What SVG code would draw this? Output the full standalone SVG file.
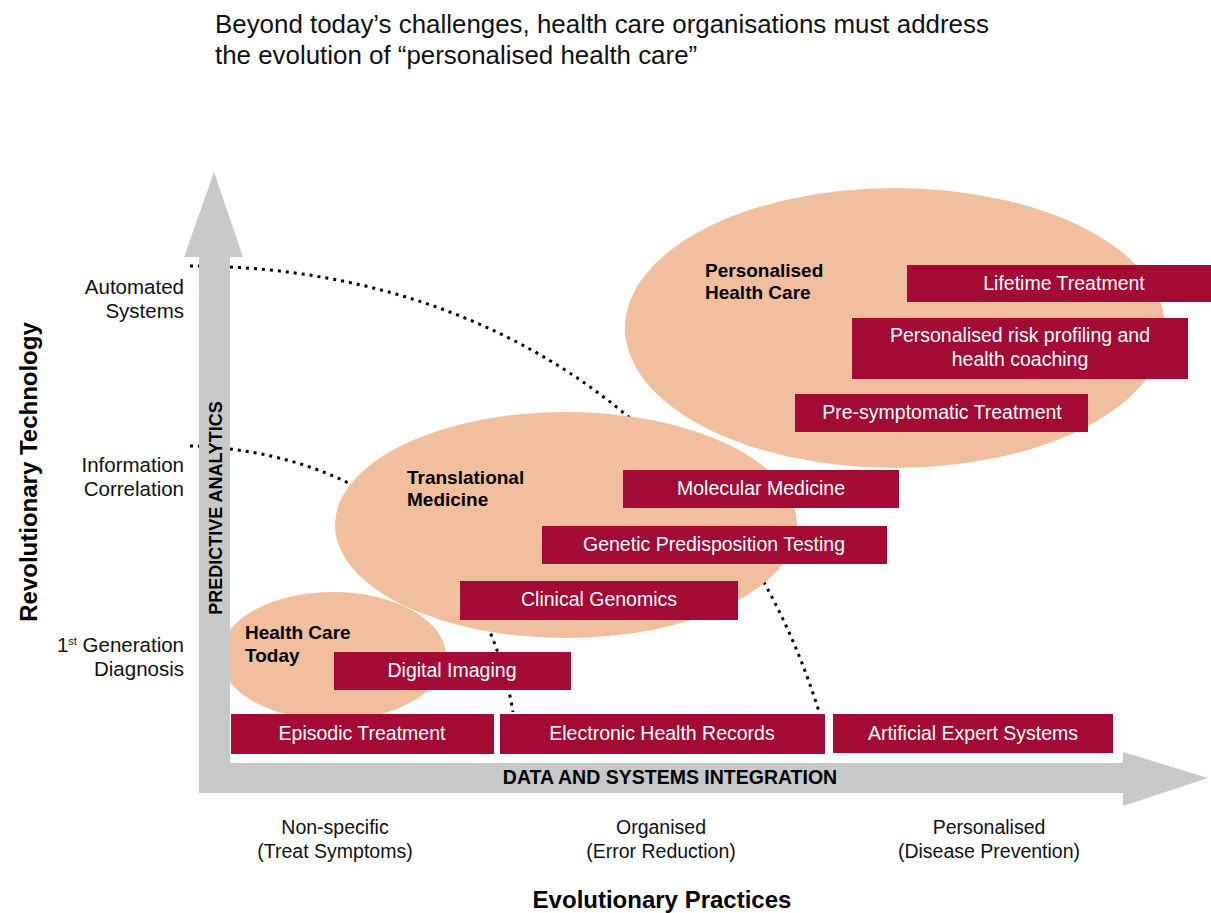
<svg xmlns="http://www.w3.org/2000/svg" width="1211" height="913" viewBox="0 0 1211 913">
<style>
.box{fill:#A30B35}
.ell{fill:#F2BF9E}
.ax{fill:#C7C8CA}
.bt{font-family:"Liberation Sans",Arial,sans-serif;font-size:19.5px;fill:#fff;text-anchor:middle}
.lbl{font-family:"Liberation Sans",Arial,sans-serif;font-size:19.5px;fill:#111}
.yl{font-size:20.5px}
.hd{font-family:"Liberation Sans",Arial,sans-serif;font-size:19px;font-weight:bold;fill:#000}
.dot{fill:none;stroke:#000;stroke-width:3;stroke-dasharray:3 5}
</style>
<rect width="1211" height="913" fill="#fff"/>
<g id="title" class="lbl" style="font-size:25.9px">
<text x="215" y="33">Beyond today’s challenges, health care organisations must address</text>
<text x="215" y="64">the evolution of “personalised health care”</text>
</g>
<g id="connectors">
<path class="dot" d="M190,266 C480,266 730,420 820,715"/>
<path class="dot" d="M190,446 C330,450 480,520 513,712"/>
</g>
<g id="ellipse-today"><ellipse class="ell" cx="333" cy="656" rx="113" ry="64"/></g>
<g id="ellipse-translational"><ellipse class="ell" cx="566" cy="525" rx="231" ry="113"/></g>
<g id="ellipse-personalised"><ellipse class="ell" cx="895" cy="328" rx="270" ry="140"/></g>
<g id="axes">
<polygon class="ax" points="214,172 243,257 230,257 230,763 1123,763 1123,752 1208,778 1123,806 1123,793 199,793 199,257 184,257"/>
<text class="hd" style="font-size:18px" transform="translate(222,508) rotate(-90)" text-anchor="middle">PREDICTIVE ANALYTICS</text>
<text class="hd" style="font-size:19.5px" x="670" y="784" text-anchor="middle">DATA AND SYSTEMS INTEGRATION</text>
</g>
<g id="lbl-today" class="hd"><text x="245" y="639">Health Care</text><text x="245" y="662">Today</text></g>
<g id="lbl-translational" class="hd"><text x="407" y="484">Translational</text><text x="407" y="506">Medicine</text></g>
<g id="lbl-personalised" class="hd"><text x="705" y="277">Personalised</text><text x="705" y="299">Health Care</text></g>
<g id="n-lifetime"><rect class="box" x="907" y="265" width="304" height="37"/><text class="bt" x="1064" y="290">Lifetime Treatment</text></g>
<g id="n-risk"><rect class="box" x="852" y="318" width="336" height="61"/><text class="bt" x="1020" y="342">Personalised risk profiling and</text><text class="bt" x="1020" y="366">health coaching</text></g>
<g id="n-presym"><rect class="box" x="795" y="394" width="293" height="38"/><text class="bt" x="942" y="419">Pre-symptomatic Treatment</text></g>
<g id="n-molecular"><rect class="box" x="623" y="470" width="276" height="38"/><text class="bt" x="761" y="495">Molecular Medicine</text></g>
<g id="n-genetic"><rect class="box" x="542" y="526" width="345" height="38"/><text class="bt" x="714" y="551">Genetic Predisposition Testing</text></g>
<g id="n-clinical"><rect class="box" x="460" y="581" width="278" height="39"/><text class="bt" x="599" y="606">Clinical Genomics</text></g>
<g id="n-imaging"><rect class="box" x="334" y="652" width="237" height="38"/><text class="bt" x="452" y="677">Digital Imaging</text></g>
<g id="n-episodic"><rect class="box" x="231" y="714" width="263" height="40"/><text class="bt" x="362" y="740">Episodic Treatment</text></g>
<g id="n-ehr"><rect class="box" x="500" y="714" width="325" height="40"/><text class="bt" x="662" y="740">Electronic Health Records</text></g>
<g id="n-aes"><rect class="box" x="833" y="714" width="280" height="39"/><text class="bt" x="973" y="740">Artificial Expert Systems</text></g>
<g id="y-labels" class="lbl yl" text-anchor="end">
<text x="184" y="294">Automated</text><text x="184" y="318">Systems</text>
<text x="184" y="472">Information</text><text x="184" y="496">Correlation</text>
<text x="184" y="652">1<tspan font-size="11" dy="-7">st</tspan><tspan dy="7"> Generation</tspan></text><text x="184" y="676">Diagnosis</text>
</g>
<g id="x-labels" class="lbl" text-anchor="middle">
<text x="335" y="834">Non-specific</text><text x="335" y="858">(Treat Symptoms)</text>
<text x="661" y="834">Organised</text><text x="661" y="858">(Error Reduction)</text>
<text x="989" y="834">Personalised</text><text x="989" y="858">(Disease Prevention)</text>
</g>
<g id="axis-titles" class="hd" style="font-size:24px" text-anchor="middle">
<text transform="translate(37,472) rotate(-90)">Revolutionary Technology</text>
<text x="662" y="908">Evolutionary Practices</text>
</g>
</svg>
